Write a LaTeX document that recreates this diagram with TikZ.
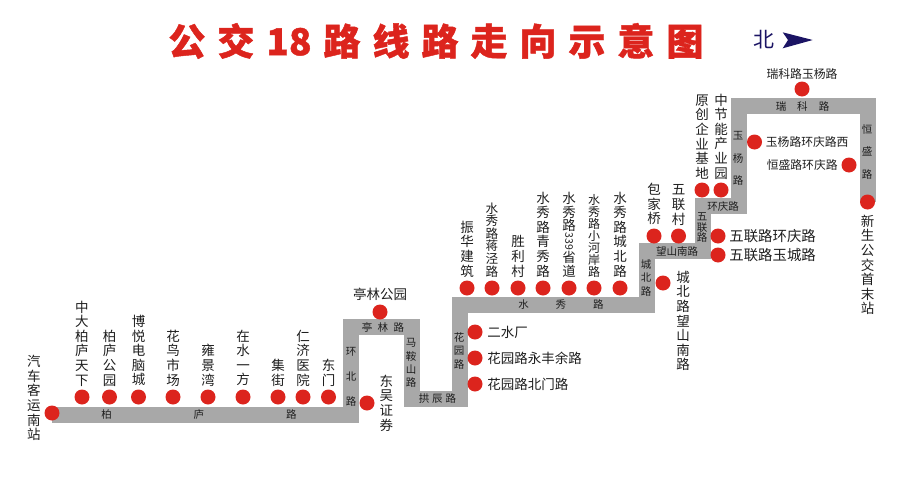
\documentclass[tikz,border=0pt]{standalone}
\usepackage{fontspec}
\usetikzlibrary{positioning}
\newfontfamily\cjk{Noto Sans CJK SC}
\newfontfamily\cjktitle[BoldFeatures={FakeBold=1.2}]{Noto Sans CJK SC}
\XeTeXlinebreaklocale "zh"
\XeTeXlinebreakskip=0pt plus 1pt
\definecolor{RouteRed}{RGB}{220,36,29}
\definecolor{RoadGray}{RGB}{168,168,168}
\definecolor{NorthBlue}{RGB}{27,20,100}
\definecolor{NameInk}{RGB}{30,30,30}

\begin{document}
\begin{tikzpicture}[
  x=1pt, y=-1pt,
  road/.style={line width=16pt, RoadGray, line join=miter},
  station/.style={circle, fill=RouteRed, inner sep=0pt, minimum size=15pt},
  vname/.style={inner sep=0pt, text width=16pt, align=center, text=NameInk, font=\cjk\fontsize{13.5}{14.6}\selectfont},
  tightname/.style={vname, font=\cjk\fontsize{#1}{#1}\selectfont},
  hname/.style={inner sep=0pt, text=NameInk, font=\cjk\fontsize{13.5}{15}\selectfont},
  widename/.style={hname, font=\cjk\fontsize{14.4}{15}\selectfont},
  sname/.style={inner sep=0pt, text=NameInk, font=\cjk\fontsize{11.8}{14}\selectfont},
  roadname/.style={inner sep=0pt, text=NameInk, font=\cjk\fontsize{10.5}{12}\selectfont},
  vroad/.style={inner sep=0pt, text width=12pt, align=center, text=NameInk, font=\cjk\fontsize{10.5}{#1}\selectfont}
]
  \useasboundingbox (0,0) rectangle (906,482);

  % Title and north mark
  \node[inner sep=0pt, text=RouteRed, font=\cjktitle\bfseries\fontsize{37}{40}\selectfont] (title) at (436,41)
    {公\hspace{12pt}交\hspace{12pt}18\hspace{12pt}路\hspace{12pt}线\hspace{12pt}路\hspace{12pt}走\hspace{12pt}向\hspace{12pt}示\hspace{12pt}意\hspace{12pt}图};
  \node[inner sep=0pt, text=NorthBlue, font=\cjk\fontsize{21}{24}\selectfont] (north) at (764,40) {北};
  \fill[NorthBlue] (782.7,32.3) -- (812.7,40) -- (782.7,48.3) -- (788,40) -- cycle;

  % Route corners
  \coordinate (c1) at (350.5,415);
  \coordinate (c2) at (350.5,327);
  \coordinate (c3) at (411.5,327);
  \coordinate (c4) at (411.5,399);
  \coordinate (c5) at (459.5,399);
  \coordinate (c6) at (459.5,305);
  \coordinate (c7) at (646.5,305);
  \coordinate (c8) at (646.5,251);
  \coordinate (c9) at (703,251);
  \coordinate (c10) at (703,205.5);
  \coordinate (c11) at (738.5,205.5);
  \coordinate (c12) at (738.5,105.5);
  \coordinate (c13) at (867.5,105.5);
  \coordinate (c14) at (867.5,202);
  \coordinate (c0) at (52,415);
  \draw[road] (c0) -- (c1) -- (c2) -- (c3) -- (c4) -- (c5) -- (c6) -- (c7) -- (c8) -- (c9) -- (c10) -- (c11) -- (c12) -- (c13) -- (c14);

  % Road names
  \node[roadname] (r1) at (199,415) {柏\hspace{82pt}庐\hspace{82pt}路};
  \node[vroad=25] (r2) at (351,377) {环北路};
  \node[roadname] (r3) at (383,327) {亭\hspace{5.5pt}林\hspace{5.5pt}路};
  \node[vroad=13.3] (r4) at (411,363) {马鞍山路};
  \node[roadname] (r5) at (437.5,399) {拱\hspace{3pt}辰\hspace{3pt}路};
  \node[vroad=13.5] (r6) at (459,350.5) {花园路};
  \node[roadname] (r7) at (561,305) {水\hspace{27pt}秀\hspace{27pt}路};
  \node[vroad=13.5] (r8) at (646,277.5) {城北路};
  \node[roadname] (r9) at (677,252) {望山南路};
  \node[vroad=10.5] (r10) at (702,228) {五联路};
  \node[roadname] (r11) at (723,206) {环庆路};
  \node[vroad=22.5] (r12) at (738,158.5) {玉杨路};
  \node[roadname] (r13) at (802.5,107) {瑞\hspace{11pt}科\hspace{11pt}路};
  \node[vroad=22.5] (r14) at (867,151.5) {恒盛路};

  % Stations
  \node[station] (qichezhan) at (52,413) {};
  \node[station] (zhongda) at (82,397) {};
  \node[station] (bailu) at (109.5,397) {};
  \node[station] (boyue) at (138.5,397) {};
  \node[station] (huaniao) at (173,397) {};
  \node[station] (yongjing) at (208,397) {};
  \node[station] (zaishui) at (243,397) {};
  \node[station] (jijie) at (278,397) {};
  \node[station] (renji) at (303,397) {};
  \node[station] (dongmen) at (328.5,397) {};
  \node[station] (dongwu) at (367,403) {};
  \node[station] (tinglin) at (380,312) {};
  \node[station] (ershui) at (475,332) {};
  \node[station] (yongfeng) at (475,358) {};
  \node[station] (beimen) at (475,384) {};
  \node[station] (zhenhua) at (467,288) {};
  \node[station] (jiangjing) at (492,288) {};
  \node[station] (shengli) at (518,288) {};
  \node[station] (qingxiu) at (543,288) {};
  \node[station] (shengdao) at (569,288) {};
  \node[station] (xiaohe) at (594,288) {};
  \node[station] (chengbei) at (620,288) {};
  \node[station] (wangshan) at (663,283) {};
  \node[station] (baojia) at (654,236) {};
  \node[station] (wulian) at (678.5,236) {};
  \node[station] (yuanchuang) at (702,190) {};
  \node[station] (zhongjie) at (721,190) {};
  \node[station] (huanqing) at (718,236) {};
  \node[station] (yucheng) at (718,255) {};
  \node[station] (yuyang) at (754.5,142) {};
  \node[station] (hengsheng) at (849,165) {};
  \node[station] (ruike) at (802,89) {};
  \node[station] (xinsheng) at (867.5,202) {};

  % Station names
  \node[vname] (n1) at (34,398) {汽车客运南站};
  \node[vname, above=3pt of zhongda] (n2) {中大柏庐天下};
  \node[vname, above=3pt of bailu] (n3) {柏庐公园};
  \node[vname, above=3pt of boyue] (n4) {博悦电脑城};
  \node[vname, above=3pt of huaniao] (n5) {花鸟市场};
  \node[vname, above=3pt of yongjing] (n6) {雍景湾};
  \node[vname, above=3pt of zaishui] (n7) {在水一方};
  \node[vname, above=3pt of jijie] (n8) {集街};
  \node[vname, above=3pt of renji] (n9) {仁济医院};
  \node[vname, above=3pt of dongmen] (n10) {东门};
  \node[vname, right=3.4pt of dongwu] (n11) {东吴证券};
  \node[hname, above=4pt of tinglin] (n12) {亭林公园};
  \node[hname, right=4.5pt of ershui] (n13) {二水厂};
  \node[hname, right=4.5pt of yongfeng] (n14) {花园路永丰余路};
  \node[hname, right=4.5pt of beimen] (n15) {花园路北门路};
  \node[vname, above=3pt of zhenhua] (n16) {振华建筑};
  \node[tightname=12.6, above=3pt of jiangjing] (n17) {水秀路蒋泾路};
  \node[vname, above=3pt of shengli] (n18) {胜利村};
  \node[vname, above=3pt of qingxiu] (n19) {水秀路青秀路};
  \node[tightname=13.5, above=3pt of shengdao] (n20) {水秀路\\\raisebox{11.5pt}{\rotatebox{-90}{\fontsize{10.5}{12}\selectfont 339}}\\省道};
  \node[tightname=12, above=3pt of xiaohe] (n21) {水秀路小河岸路};
  \node[vname, above=3pt of chengbei] (n22) {水秀路城北路};
  \node[vname] (n23) at (683,321) {城北路望山南路};
  \node[vname, above=3pt of baojia] (n24) {包家桥};
  \node[vname, above=3pt of wulian] (n25) {五联村};
  \node[vname, above=3pt of yuanchuang] (n26) {原创企业基地};
  \node[vname, above=3pt of zhongjie] (n27) {中节能产业园};
  \node[widename, right=3.5pt of huanqing] (n28) {五联路环庆路};
  \node[widename, right=3.5pt of yucheng] (n29) {五联路玉城路};
  \node[sname, right=3.5pt of yuyang] (n30) {玉杨路环庆路西};
  \node[sname, left=3.5pt of hengsheng] (n31) {恒盛路环庆路};
  \node[sname, above=1.5pt of ruike] (n32) {瑞科路玉杨路};
  \node[vname, below=5pt of xinsheng] (n33) {新生公交首末站};
\end{tikzpicture}
\end{document}
